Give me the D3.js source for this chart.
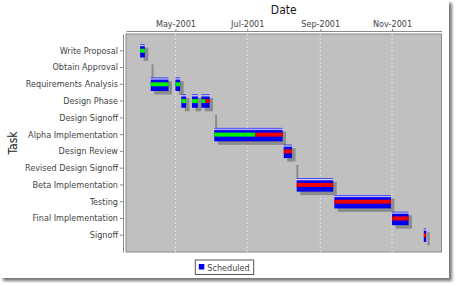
<!DOCTYPE html>
<html>
<head>
<meta charset="utf-8">
<script src="https://cdn.jsdelivr.net/npm/d3@7"></script>
<style>
  body { margin: 0; background: #fff; }
  text { font-family: "DejaVu Sans Condensed", "Liberation Sans", sans-serif; }
</style>
</head>
<body>
<div id="chart"></div>
<script>
// categories (one row per task)
var tasks = ["Write Proposal", "Obtain Approval", "Requirements Analysis", "Design Phase",
    "Design Signoff", "Alpha Implementation", "Design Review", "Revised Design Signoff",
    "Beta Implementation", "Testing", "Final Implementation", "Signoff"];

// bars (sub tasks): row index, start, end, fraction complete
var segTask  = [0, 1, 2, 2, 3, 3, 3, 4, 5, 6, 7, 8, 9, 10, 11];
var segStart = ["2001-04-01", "2001-04-09", "2001-04-10", "2001-05-01", "2001-05-06", "2001-05-15",
    "2001-05-23", "2001-06-02", "2001-06-03", "2001-08-01", "2001-08-10", "2001-08-12",
    "2001-09-13", "2001-11-01", "2001-11-28"];
var segEnd   = ["2001-04-05", "2001-04-09", "2001-04-25", "2001-05-05", "2001-05-10", "2001-05-20",
    "2001-05-30", "2001-06-02", "2001-07-31", "2001-08-08", "2001-08-10", "2001-09-12",
    "2001-10-31", "2001-11-15", "2001-11-30"];
var segDone  = [1, 1, 1, 1, 1, 1, 0.5, null, 0.6, 0, 0, 0, 0, 0, 0];

var dateTicks = ["2001-05-01", "2001-07-01", "2001-09-01", "2001-11-01"];
var dateRange = ["2001-03-20", "2001-12-13"];
var seriesName = "Scheduled";

var parseDate = d3.timeParse("%Y-%m-%d");

var W = 459, H = 286;
var plot = { left: 126, right: 441.5, top: 34, bottom: 252 };

var svg = d3.select("#chart").append("svg")
    .attr("width", W)
    .attr("height", H);

var defs = svg.append("defs");
defs.append("filter").attr("id", "blur")
    .append("feGaussianBlur").attr("stdDeviation", 1.4);

// bar painter: thin highlight near the top edge
var grad = defs.append("linearGradient").attr("id", "barGrad")
    .attr("x1", 0).attr("y1", 0).attr("x2", 0).attr("y2", 1);
grad.append("stop").attr("offset", 0).attr("stop-color", "#0000f0");
grad.append("stop").attr("offset", 0.1).attr("stop-color", "#d8d8ff");
grad.append("stop").attr("offset", 0.2).attr("stop-color", "#0000f0");
grad.append("stop").attr("offset", 1).attr("stop-color", "#0000f0");

// panel with drop shadow
svg.append("rect")
    .attr("x", 3).attr("y", 3)
    .attr("width", 449).attr("height", 278)
    .style("fill", "#777")
    .attr("filter", "url(#blur)");
svg.append("rect")
    .attr("x", 0).attr("y", 0)
    .attr("width", 449).attr("height", 278)
    .style("fill", "#fff");

// scales
var x = d3.scaleTime()
    .domain(dateRange.map(parseDate))
    .range([plot.left, plot.right]);

var y = d3.scaleBand()
    .domain(tasks)
    .range([plot.top, plot.bottom])
    .paddingInner(0.2)
    .paddingOuter(0.6);

// plot background
svg.append("rect")
    .attr("x", plot.left).attr("y", plot.top)
    .attr("width", plot.right - plot.left)
    .attr("height", plot.bottom - plot.top)
    .style("fill", "#c0c0c0")
    .style("stroke", "#8a8a8a")
    .style("stroke-width", 1);

// gridlines
svg.selectAll(".grid")
    .data(dateTicks)
    .enter().append("line")
    .attr("x1", function (d) { return x(parseDate(d)); })
    .attr("x2", function (d) { return x(parseDate(d)); })
    .attr("y1", plot.top)
    .attr("y2", plot.bottom)
    .style("stroke", "#ececec")
    .style("stroke-width", 0.8)
    .style("stroke-dasharray", "2,2");

// bars
var segs = segTask.map(function (t, i) {
    return { task: tasks[t], start: parseDate(segStart[i]), end: parseDate(segEnd[i]), done: segDone[i] };
});
var bh = y.bandwidth();

svg.selectAll(".shadow")
    .data(segs)
    .enter().append("rect")
    .attr("x", function (d) {
        var w = x(d.end) - x(d.start);
        return x(d.start) + (w < 2 ? 2 : 3.5);
    })
    .attr("y", function (d) { return y(d.task) + 3.5; })
    .attr("width", function (d) { return Math.max(x(d.end) - x(d.start), 2); })
    .attr("height", bh)
    .style("fill", "#8c8c8c");

svg.selectAll(".bar")
    .data(segs)
    .enter().append("rect")
    .attr("x", function (d) { return x(d.start); })
    .attr("y", function (d) { return y(d.task); })
    .attr("width", function (d) { return x(d.end) - x(d.start); })
    .attr("height", bh)
    .style("fill", "url(#barGrad)");

var withDone = segs.filter(function (d) { return d.done !== null && x(d.end) > x(d.start); });

// completed part
svg.selectAll(".done")
    .data(withDone)
    .enter().append("rect")
    .attr("x", function (d) { return x(d.start); })
    .attr("y", function (d) { return y(d.task) + bh * 0.35; })
    .attr("width", function (d) { return (x(d.end) - x(d.start)) * d.done; })
    .attr("height", bh * 0.3)
    .style("fill", "#00f000");

// incomplete part
svg.selectAll(".todo")
    .data(withDone)
    .enter().append("rect")
    .attr("x", function (d) { return x(d.start) + (x(d.end) - x(d.start)) * d.done; })
    .attr("y", function (d) { return y(d.task) + bh * 0.35; })
    .attr("width", function (d) { return (x(d.end) - x(d.start)) * (1 - d.done); })
    .attr("height", bh * 0.3)
    .style("fill", "#f00000");

// X axis (top)
var xAxis = svg.append("g")
    .attr("transform", "translate(0," + (plot.top - 3) + ")")
    .call(d3.axisTop(x)
        .tickValues(dateTicks.map(parseDate))
        .tickFormat(d3.timeFormat("%b-%Y"))
        .tickSize(2)
        .tickSizeOuter(0)
        .tickPadding(2));
xAxis.select(".domain").style("stroke", "#8a8a8a");
xAxis.selectAll(".tick line").style("stroke", "#8a8a8a");
xAxis.selectAll("text")
    .style("font-size", "9px")
    .style("fill", "#444");

// Y axis (left)
var yAxis = svg.append("g")
    .attr("transform", "translate(" + (plot.left - 3) + ",0)")
    .call(d3.axisLeft(y)
        .tickSize(3)
        .tickSizeOuter(0)
        .tickPadding(2));
yAxis.select(".domain").style("stroke", "#8a8a8a");
yAxis.selectAll(".tick line").style("stroke", "#8a8a8a");
yAxis.selectAll("text")
    .style("font-size", "9px")
    .style("fill", "#444");

// axis titles
svg.append("text")
    .attr("x", (plot.left + plot.right) / 2)
    .attr("y", 13.5)
    .attr("text-anchor", "middle")
    .style("font-size", "12px")
    .style("fill", "#1a1a1a")
    .text("Date");

svg.append("text")
    .attr("transform", "translate(17," + ((plot.top + plot.bottom) / 2) + ") rotate(-90)")
    .attr("text-anchor", "middle")
    .style("font-size", "12px")
    .style("fill", "#1a1a1a")
    .text("Task");

// legend
var legend = svg.append("g");
var legendBox = legend.append("rect")
    .attr("y", 260)
    .attr("height", 14.5)
    .style("fill", "#fff")
    .style("stroke", "#555")
    .style("stroke-width", 1);
var legendSwatch = legend.append("rect")
    .attr("y", 264)
    .attr("width", 5.5).attr("height", 5.5)
    .style("fill", "#0000f0");
var legendText = legend.append("text")
    .attr("y", 270.5)
    .style("font-size", "9px")
    .style("fill", "#444")
    .text(seriesName);

var tw = legendText.node().getComputedTextLength();
var lw = tw + 16;
var lx = 224.5 - lw / 2;
legendBox.attr("x", lx).attr("width", lw);
legendSwatch.attr("x", lx + 3.5);
legendText.attr("x", lx + 12);
</script>
</body>
</html>
